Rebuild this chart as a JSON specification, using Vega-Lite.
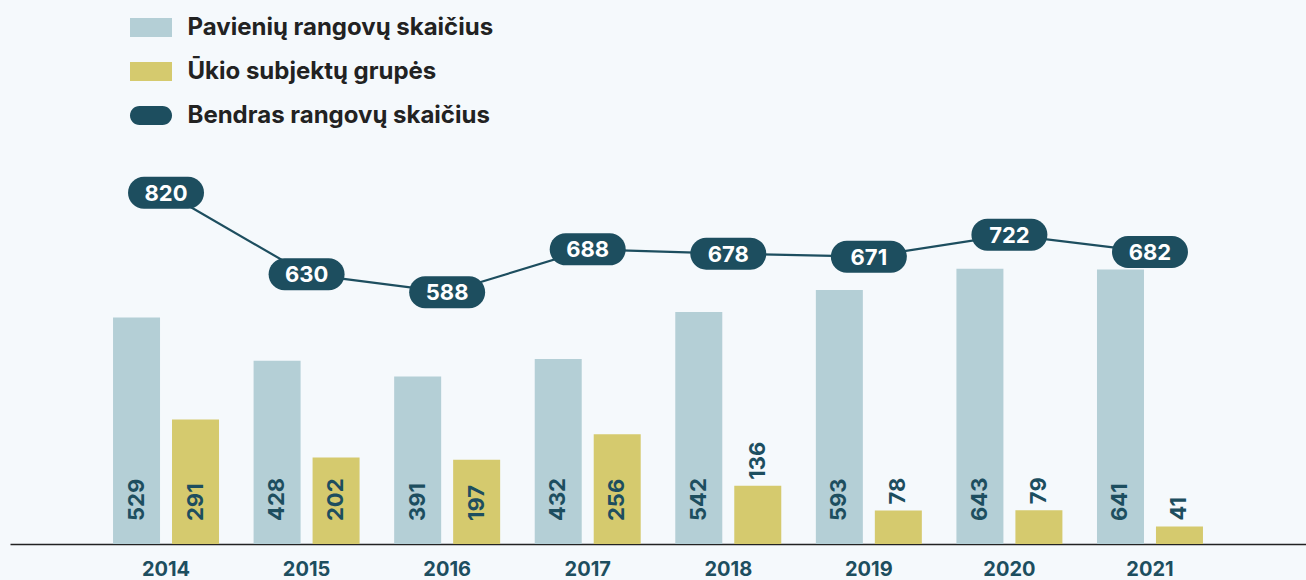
{
  "$schema": "https://vega.github.io/schema/vega-lite/v6.json",
  "width": 1296,
  "height": 394,
  "autosize": {"type": "none"},
  "padding": {"left": 10, "top": 150, "right": 0, "bottom": 36},
  "background": "#f5f9fc",
  "config": {"view": {"stroke": null}, "font": "Inter"},
  "datasets": {
    "bars": [
      {"year": "2014", "series": "Pavienių rangovų skaičius", "value": 529},
      {"year": "2014", "series": "Ūkio subjektų grupės", "value": 291},
      {"year": "2015", "series": "Pavienių rangovų skaičius", "value": 428},
      {"year": "2015", "series": "Ūkio subjektų grupės", "value": 202},
      {"year": "2016", "series": "Pavienių rangovų skaičius", "value": 391},
      {"year": "2016", "series": "Ūkio subjektų grupės", "value": 197},
      {"year": "2017", "series": "Pavienių rangovų skaičius", "value": 432},
      {"year": "2017", "series": "Ūkio subjektų grupės", "value": 256},
      {"year": "2018", "series": "Pavienių rangovų skaičius", "value": 542},
      {"year": "2018", "series": "Ūkio subjektų grupės", "value": 136},
      {"year": "2019", "series": "Pavienių rangovų skaičius", "value": 593},
      {"year": "2019", "series": "Ūkio subjektų grupės", "value": 78},
      {"year": "2020", "series": "Pavienių rangovų skaičius", "value": 643},
      {"year": "2020", "series": "Ūkio subjektų grupės", "value": 79},
      {"year": "2021", "series": "Pavienių rangovų skaičius", "value": 641},
      {"year": "2021", "series": "Ūkio subjektų grupės", "value": 41}
    ],
    "totals": [
      {"year": "2014", "total": 820},
      {"year": "2015", "total": 630},
      {"year": "2016", "total": 588},
      {"year": "2017", "total": 688},
      {"year": "2018", "total": 678},
      {"year": "2019", "total": 671},
      {"year": "2020", "total": 722},
      {"year": "2021", "total": 682}
    ]
  },
  "encoding": {
    "x": {
      "field": "year",
      "type": "nominal",
      "scale": {"paddingInner": 0, "paddingOuter": 0.61},
      "axis": {
        "title": null,
        "labelAngle": 0,
        "ticks": false,
        "grid": false,
        "domainColor": "#222222",
        "domainWidth": 1.5,
        "labelFont": "Inter",
        "labelFontSize": 20,
        "labelFontWeight": "bold",
        "labelColor": "#1d4e5f",
        "labelPadding": 15
      }
    }
  },
  "layer": [
    {
      "data": {"name": "bars"},
      "mark": {"type": "bar", "width": 47},
      "encoding": {
        "xOffset": {
          "field": "series",
          "type": "nominal",
          "scale": {"domain": ["Pavienių rangovų skaičius", "Ūkio subjektų grupės"], "paddingInner": 0.203, "paddingOuter": 0.293}
        },
        "y": {"field": "value", "type": "quantitative", "scale": {"domain": [0, 920], "nice": false, "zero": true}, "axis": null},
        "color": {
          "field": "series",
          "type": "nominal",
          "scale": {
            "domain": ["Pavienių rangovų skaičius", "Ūkio subjektų grupės", "Bendras rangovų skaičius"],
            "range": ["#b4cfd6", "#d5ca6e", "#1d4e5f"]
          },
          "legend": {
            "orient": "none",
            "legendX": 129,
            "legendY": -134.5,
            "direction": "vertical",
            "title": null,
            "padding": 0,
            "labelFont": "Inter",
            "labelFontSize": 24,
            "labelFontWeight": "bold",
            "labelColor": "#222222",
            "labelLimit": 0,
            "labelOffset": 24.5,
            "symbolSize": 400,
            "symbolStrokeWidth": 0,
            "symbolOpacity": 1,
            "rowPadding": 20,
            "encode": {
              "symbols": {
                "update": {
                  "shape": {"signal": "datum.value === 'Bendras rangovų skaičius' ? 'M-1.15,-0.95L1.15,-0.95C1.675,-0.95,2.1,-0.525,2.1,0C2.1,0.525,1.675,0.95,1.15,0.95L-1.15,0.95C-1.675,0.95,-2.1,0.525,-2.1,0C-2.1,-0.525,-1.675,-0.95,-1.15,-0.95Z' : 'M-2.1,-0.95L2.1,-0.95L2.1,0.95L-2.1,0.95Z'"}
                }
              }
            }
          }
        }
      }
    },
    {
      "data": {"name": "bars"},
      "transform": [{"filter": "datum.value >= 150"}],
      "mark": {"type": "text", "angle": 270, "align": "left", "baseline": "middle", "dx": 23, "font": "Inter", "fontSize": 22, "fontWeight": "bold", "color": "#1d4e5f"},
      "encoding": {
        "xOffset": {"field": "series", "type": "nominal"},
        "y": {"datum": 0, "type": "quantitative", "scale": {"domain": [0, 920], "nice": false}},
        "text": {"field": "value", "type": "quantitative"}
      }
    },
    {
      "data": {"name": "bars"},
      "transform": [{"filter": "datum.value < 150"}],
      "mark": {"type": "text", "angle": 270, "align": "left", "baseline": "middle", "dx": 6, "font": "Inter", "fontSize": 22, "fontWeight": "bold", "color": "#1d4e5f"},
      "encoding": {
        "xOffset": {"field": "series", "type": "nominal"},
        "y": {"field": "value", "type": "quantitative", "scale": {"domain": [0, 920], "nice": false}},
        "text": {"field": "value", "type": "quantitative"}
      }
    },
    {
      "data": {"name": "totals"},
      "mark": {"type": "line", "color": "#1d4e5f", "strokeWidth": 2.2},
      "encoding": {
        "y": {"field": "total", "type": "quantitative", "scale": {"domain": [0, 920], "nice": false}}
      }
    },
    {
      "data": {"name": "totals"},
      "mark": {
        "type": "point",
        "filled": true,
        "opacity": 1,
        "color": "#1d4e5f",
        "size": 5776,
        "shape": "M-0.579,-0.421L0.579,-0.421C0.8115,-0.421,1,-0.2325,1,0C1,0.2325,0.8115,0.421,0.579,0.421L-0.579,0.421C-0.8115,0.421,-1,0.2325,-1,0C-1,-0.2325,-0.8115,-0.421,-0.579,-0.421Z"
      },
      "encoding": {
        "y": {"field": "total", "type": "quantitative", "scale": {"domain": [0, 920], "nice": false}}
      }
    },
    {
      "data": {"name": "totals"},
      "mark": {"type": "text", "align": "center", "baseline": "middle", "dy": 1, "font": "Inter", "fontSize": 22, "fontWeight": "bold", "color": "#ffffff"},
      "encoding": {
        "y": {"field": "total", "type": "quantitative", "scale": {"domain": [0, 920], "nice": false}},
        "text": {"field": "total", "type": "quantitative"}
      }
    }
  ]
}
